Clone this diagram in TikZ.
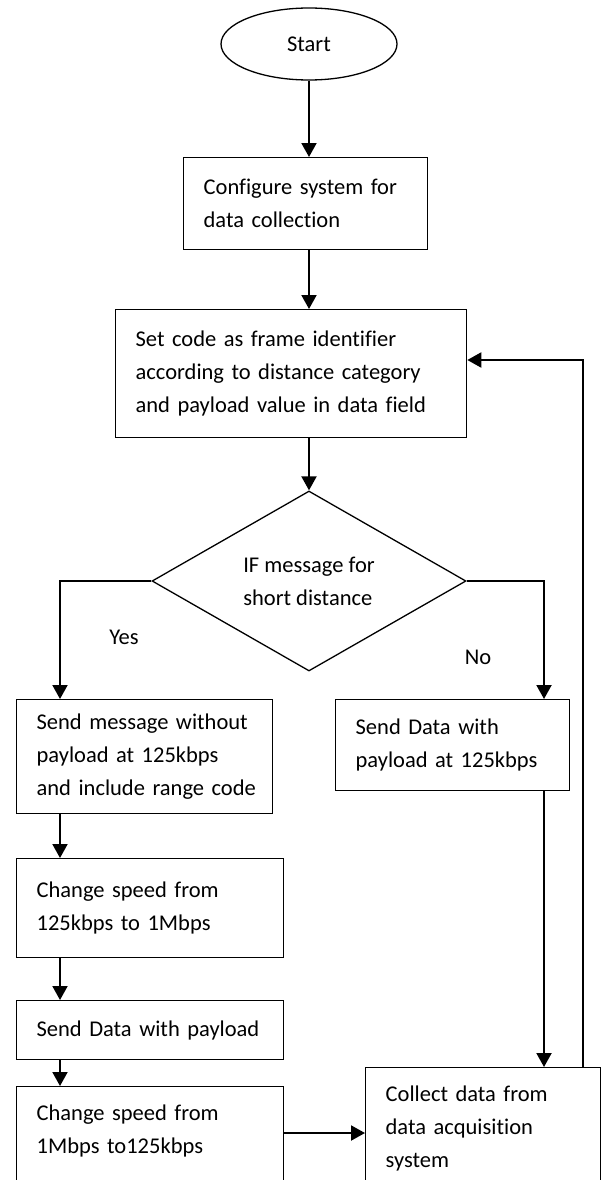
\documentclass[tikz,border=0pt]{standalone}
\usepackage{fontspec}
\setmainfont{Carlito}[Ligatures=CommonOff]
\usetikzlibrary{shapes.geometric,arrows.meta}
\begin{document}
\begin{tikzpicture}[x=1pt,y=-1pt,
  every node/.style={font=\fontsize{22.5}{33}\selectfont, text=black},
  box/.style={draw, line width=1.3pt, rectangle, anchor=north west, inner xsep=20pt, inner ysep=0pt, align=left},
  arr/.style={line width=2pt, -{Triangle[length=14pt,width=15pt]}}]
\path[use as bounding box, fill=white] (0,0) rectangle (603,1180);
\clip (0,0) rectangle (603,1180);

\node[draw, ellipse, line width=1.3pt, minimum width=176pt, minimum height=72pt, inner sep=0pt] (start) at (309,44) {Start};
\node[box, minimum width=244pt, minimum height=92pt, text width=204pt] (config) at (183,157) {Configure system for\\data collection};
\node[box, minimum width=351pt, minimum height=128pt, text width=311pt] (setcode) at (115,309) {Set code as frame identifier\\according to distance category\\and payload value in data field};
\node[draw, diamond, line width=1.3pt, minimum width=314pt, minimum height=154pt, inner sep=0pt, align=left] (dec) at (309,581) {IF message for\\short distance};
\node (yes) at (124,637) {Yes};
\node (no) at (478,657) {No};
\node[box, minimum width=256pt, minimum height=114pt, text width=216pt] (sendmsg) at (16,699) {Send message without\\payload at 125kbps\\\mbox{and include range code}};
\node[box, minimum width=234pt, minimum height=91pt, text width=194pt] (senddata) at (335,699) {Send Data with\\payload at 125kbps};
\node[box, minimum width=267pt, minimum height=99pt, text width=227pt] (chg1) at (16,858) {Change speed from\\125kbps to 1Mbps};
\node[box, minimum width=267pt, minimum height=59pt, text width=227pt] (sendpay) at (16,1000) {Send Data with payload};
\node[box, minimum width=267pt, minimum height=118pt, text width=227pt] (chg2) at (16,1086) {Change speed from\\1Mbps to125kbps\\\mbox{}};
\node[box, minimum width=235pt, minimum height=122pt, text width=195pt] (collect) at (365,1067) {Collect data from\\data acquisition\\system};

\coordinate (lcol) at (60,0);
\coordinate (rcol) at (544,0);
\coordinate (loopx) at (583,0);
\coordinate (loopy) at (0,360);
\coordinate (chgy) at (0,1133);

\draw[arr] (start.south) -- (start.south |- config.north);
\draw[arr] (config.south -| start) -- (setcode.north -| start);
\draw[arr] (setcode.south -| dec) -- (dec.north);
\draw[arr] (dec.west) -| (sendmsg.north -| lcol);
\draw[arr] (dec.east) -| (senddata.north -| rcol);
\draw[arr] (sendmsg.south -| lcol) -- (chg1.north -| lcol);
\draw[arr] (chg1.south -| lcol) -- (sendpay.north -| lcol);
\draw[arr] (sendpay.south -| lcol) -- (chg2.north -| lcol);
\draw[arr] (chg2.east |- chgy) -- (collect.west |- chgy);
\draw[arr] (senddata.south -| rcol) -- (collect.north -| rcol);
\draw[arr] (collect.north -| loopx) |- (setcode.east |- loopy);
\end{tikzpicture}
\end{document}
